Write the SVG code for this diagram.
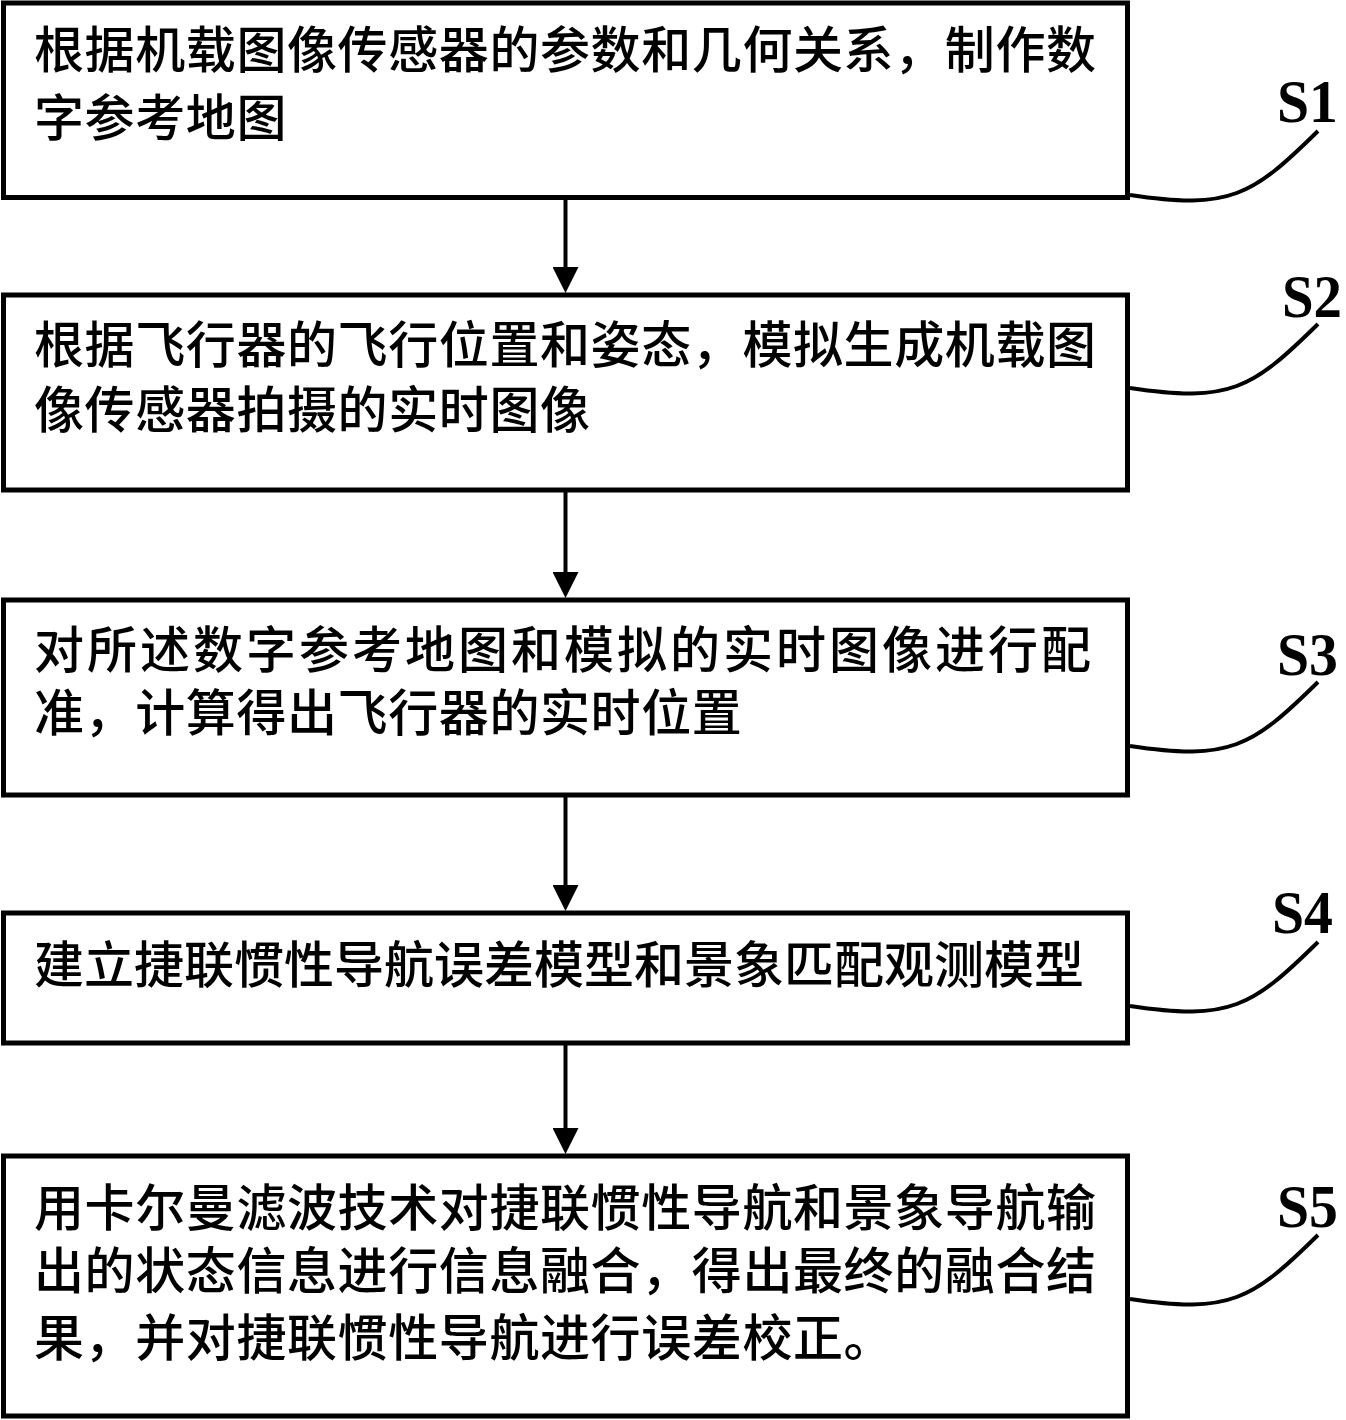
<svg xmlns="http://www.w3.org/2000/svg" width="1346" height="1420" viewBox="0 0 1346 1420">
<style>
.box{fill:#fff;stroke:#000;stroke-width:5}
.t{font-family:"Noto Sans CJK SC","Noto Sans CJK JP",sans-serif;font-size:50px;font-weight:500;fill:#000;letter-spacing:0.6px}
.lbl{font-family:"Liberation Serif","Times New Roman",serif;font-size:62px;font-weight:bold;fill:#000}
.lead{fill:none;stroke:#000;stroke-width:4}
.arr{stroke:#000;stroke-width:4;fill:none;marker-end:url(#ah)}
</style>
<defs>
<marker id="ah" markerUnits="userSpaceOnUse" markerWidth="26" markerHeight="26" viewBox="0 0 26 26" refX="8" refY="13" orient="auto">
<path d="M0,0 L26,13 L0,26 z" fill="#000"/>
</marker>
<path id="leadpath" d="M1130,195 C1230,210 1252,196 1318,131"/>
</defs>
<rect width="1346" height="1420" fill="#fff"/>
<g id="connectors">
<line class="arr" x1="565.5" y1="198" x2="565.5" y2="275"/>
<line class="arr" x1="565.5" y1="491" x2="565.5" y2="580"/>
<line class="arr" x1="565.5" y1="796" x2="565.5" y2="893"/>
<line class="arr" x1="565.5" y1="1044" x2="565.5" y2="1136"/>
</g>
<g id="S1">
<rect class="box" x="3.5" y="3" width="1124" height="194.5"/>
<text class="t" x="34" y="68">根据机载图像传感器的参数和几何关系，制作数</text>
<text class="t" x="34" y="136">字参考地图</text>
<use href="#leadpath" class="lead"/>
<text class="lbl" x="1277" y="122" textLength="61" lengthAdjust="spacingAndGlyphs">S1</text>
</g>
<g id="S2">
<rect class="box" x="3.5" y="295" width="1124" height="195"/>
<text class="t" x="34" y="363">根据飞行器的飞行位置和姿态，模拟生成机载图</text>
<text class="t" x="34" y="428">像传感器拍摄的实时图像</text>
<use href="#leadpath" class="lead" transform="translate(0,193)"/>
<text class="lbl" x="1282" y="317" textLength="60" lengthAdjust="spacingAndGlyphs">S2</text>
</g>
<g id="S3">
<rect class="box" x="3.5" y="600" width="1124" height="195"/>
<text class="t" x="34" y="668" style="letter-spacing:3px">对所述数字参考地图和模拟的实时图像进行配</text>
<text class="t" x="34" y="731">准，计算得出飞行器的实时位置</text>
<use href="#leadpath" class="lead" transform="translate(0,551)"/>
<text class="lbl" x="1277" y="675" textLength="61" lengthAdjust="spacingAndGlyphs">S3</text>
</g>
<g id="S4">
<rect class="box" x="3.5" y="913" width="1124" height="130"/>
<text class="t" x="34" y="983" style="letter-spacing:0px">建立捷联惯性导航误差模型和景象匹配观测模型</text>
<use href="#leadpath" class="lead" transform="translate(0,811)"/>
<text class="lbl" x="1272" y="933" textLength="61" lengthAdjust="spacingAndGlyphs">S4</text>
</g>
<g id="S5">
<rect class="box" x="3.5" y="1156" width="1124" height="260"/>
<text class="t" x="34" y="1226">用卡尔曼滤波技术对捷联惯性导航和景象导航输</text>
<text class="t" x="34" y="1289">出的状态信息进行信息融合，得出最终的融合结</text>
<text class="t" x="34" y="1356">果，并对捷联惯性导航进行误差校正。</text>
<use href="#leadpath" class="lead" transform="translate(0,1104)"/>
<text class="lbl" x="1277" y="1227" textLength="61" lengthAdjust="spacingAndGlyphs">S5</text>
</g>
</svg>
